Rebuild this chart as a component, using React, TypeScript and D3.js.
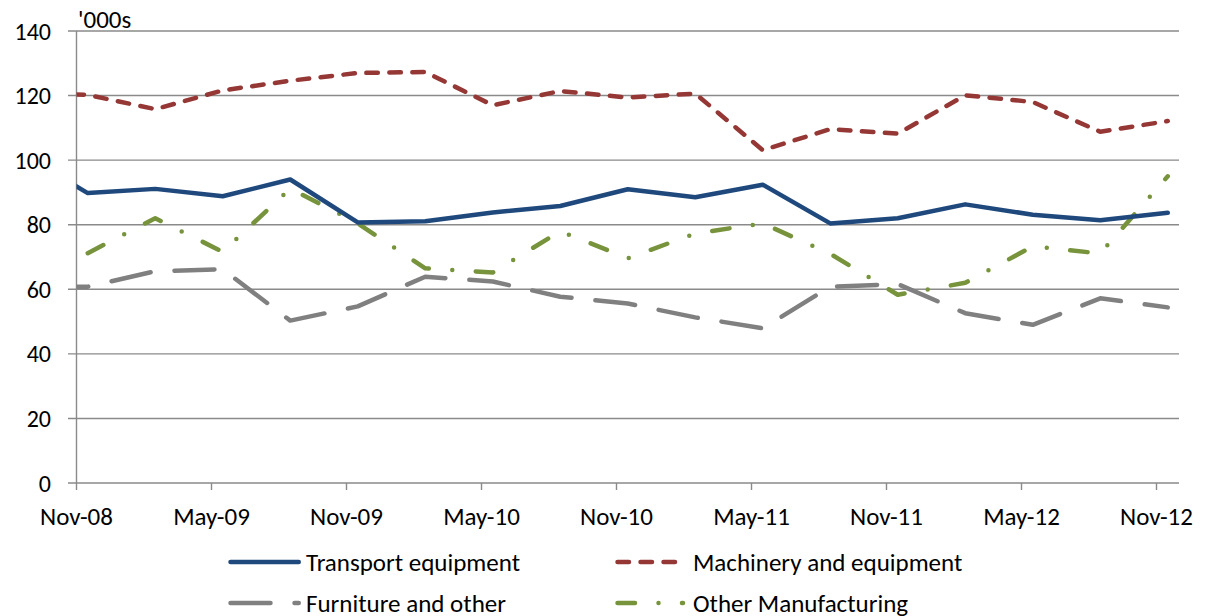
import * as d3 from 'd3';
import { useEffect, useRef } from 'react';

// quarterly data, '000s (first quarter sits left of the axis start and gets clipped)
const quarters = [
  'Aug-08', 'Nov-08', 'Feb-09', 'May-09', 'Aug-09', 'Nov-09', 'Feb-10', 'May-10', 'Aug-10',
  'Nov-10', 'Feb-11', 'May-11', 'Aug-11', 'Nov-11', 'Feb-12', 'May-12', 'Aug-12', 'Nov-12',
];
const transport = [102, 89.8, 91.1, 88.8, 94.0, 80.7, 81.1, 83.8, 85.8, 91.0, 88.5, 92.4, 80.4, 82.0, 86.3, 83.1, 81.4, 83.7];
const machinery = [121, 120.2, 115.8, 121.6, 124.6, 127.0, 127.3, 117.0, 121.4, 119.4, 120.6, 103.1, 109.6, 108.2, 120.1, 118.0, 108.8, 112.1];
const furniture = [60.5, 60.8, 65.6, 66.2, 50.3, 54.7, 63.9, 62.4, 57.7, 55.6, 51.3, 47.9, 60.8, 61.6, 52.6, 49.0, 57.2, 54.4];
const otherMfg = [null, 71.2, 82.0, 71.6, 91.2, 80.4, 66.5, 65.2, 78.0, 69.6, 77.3, 80.4, 71.0, 58.3, 62.0, 73.3, 71.1, 95.0];

const seriesNames = ['Transport equipment', 'Machinery and equipment', 'Furniture and other', 'Other Manufacturing'];
const yTicks = [0, 20, 40, 60, 80, 100, 120, 140];
const xTickLabels = ['Nov-08', 'May-09', 'Nov-09', 'May-10', 'Nov-10', 'May-11', 'Nov-11', 'May-12', 'Nov-12'];
const unitLabel = "'000s";

const FONT = 'Carlito, Lato, sans-serif';

const App = () => {
  const svgRef = useRef<any>();
  const width = 1222;
  const height = 616;
  const left = 76.5;
  const right = 1179;
  const top = 31;
  const bottom = 483;

  useEffect(() => {
    const svg = d3.select(svgRef.current);
    svg.selectAll('*').remove();

    const parse = d3.utcParse('%b-%y');
    const start = parse(xTickLabels[0]) as Date;
    const monthIdx = (s: string) => d3.utcMonth.count(start, parse(s) as Date);

    // month-based axis, points sit in the middle of their month
    const x = d3.scaleLinear().domain([0, 49]).range([left, right]);
    const y = d3.scaleLinear().domain([0, 140]).range([bottom, top]);
    const grid = '#8a8a8a';

    svg
      .append('defs')
      .append('clipPath')
      .attr('id', 'plotclip')
      .append('rect')
      .attr('x', left)
      .attr('y', 0)
      .attr('width', right - left)
      .attr('height', height);

    // gridlines + y ticks
    svg
      .append('g')
      .selectAll('line')
      .data(yTicks)
      .enter()
      .append('line')
      .attr('x1', 68)
      .attr('x2', right)
      .attr('y1', (d) => y(d))
      .attr('y2', (d) => y(d))
      .attr('stroke', grid)
      .attr('stroke-width', 1.4);

    svg
      .append('line')
      .attr('x1', left)
      .attr('x2', left)
      .attr('y1', top)
      .attr('y2', bottom)
      .attr('stroke', grid)
      .attr('stroke-width', 1.4);

    svg
      .append('g')
      .selectAll('text')
      .data(yTicks)
      .enter()
      .append('text')
      .attr('x', 51)
      .attr('y', (d) => y(d))
      .attr('dy', '0.36em')
      .attr('text-anchor', 'end')
      .attr('font-family', FONT)
      .attr('font-size', 24)
      .attr('fill', '#000')
      .text((d) => d);

    svg
      .append('text')
      .attr('x', 78)
      .attr('y', 28)
      .attr('font-family', FONT)
      .attr('font-size', 25)
      .attr('fill', '#000')
      .text(unitLabel);

    // x ticks and labels
    const xt = svg.append('g');
    xt.selectAll('line')
      .data(xTickLabels)
      .enter()
      .append('line')
      .attr('x1', (d) => x(monthIdx(d)))
      .attr('x2', (d) => x(monthIdx(d)))
      .attr('y1', bottom)
      .attr('y2', bottom + 7)
      .attr('stroke', grid)
      .attr('stroke-width', 1.4);
    xt.selectAll('text')
      .data(xTickLabels)
      .enter()
      .append('text')
      .attr('x', (d) => x(monthIdx(d)))
      .attr('y', 525)
      .attr('text-anchor', 'middle')
      .attr('font-family', FONT)
      .attr('font-size', 25)
      .attr('fill', '#000')
      .text((d) => d);

    const series = [
      { name: seriesNames[0], values: transport, color: '#1F497D', dash: null, offset: 0 },
      { name: seriesNames[1], values: machinery, color: '#953735', dash: '11.5 11.5', offset: 16.7 },
      { name: seriesNames[2], values: furniture, color: '#808080', dash: '40 24', offset: 36 },
      { name: seriesNames[3], values: otherMfg, color: '#77933C', dash: '17.5 23.5 0 23.5', offset: 0 },
    ];

    const line = d3
      .line<number | null>()
      .defined((d) => d != null)
      .x((_, i) => x(monthIdx(quarters[i]) + 0.5))
      .y((d) => y(d as number));

    const plot = svg.append('g').attr('clip-path', 'url(#plotclip)');
    // draw in reverse so transport sits on top
    [...series].reverse().forEach((s) => {
      plot
        .append('path')
        .datum(s.values)
        .attr('d', line as any)
        .attr('fill', 'none')
        .attr('stroke', s.color)
        .attr('stroke-width', 4.5)
        .attr('stroke-linecap', 'round')
        .attr('stroke-linejoin', 'round')
        .attr('stroke-dasharray', s.dash)
        .attr('stroke-dashoffset', s.offset);
    });

    // legend, two columns
    const legendPos = [
      { x1: 230.5, x2: 298.75, tx: 306, y: 562 },
      { x1: 617.5, x2: 683, tx: 693, y: 562 },
      { x1: 230.5, x2: 298.75, tx: 306, y: 603 },
      { x1: 617.5, x2: 683, tx: 693, y: 603 },
    ];
    const legend = svg.append('g');
    series.forEach((s, i) => {
      const p = legendPos[i];
      legend
        .append('line')
        .attr('x1', p.x1)
        .attr('x2', p.x2)
        .attr('y1', p.y)
        .attr('y2', p.y)
        .attr('stroke', s.color)
        .attr('stroke-width', 4.5)
        .attr('stroke-linecap', 'round')
        .attr('stroke-dasharray', s.dash);
      legend
        .append('text')
        .attr('x', p.tx)
        .attr('y', p.y)
        .attr('dy', '0.36em')
        .attr('font-family', FONT)
        .attr('font-size', 25)
        .attr('fill', '#000')
        .text(s.name);
    });
  }, []);

  return (
    <svg
      ref={svgRef}
      width={width}
      height={height}
      style={{ position: 'absolute', left: 0, top: 0, background: '#fff' }}
    />
  );
};

export default App;
